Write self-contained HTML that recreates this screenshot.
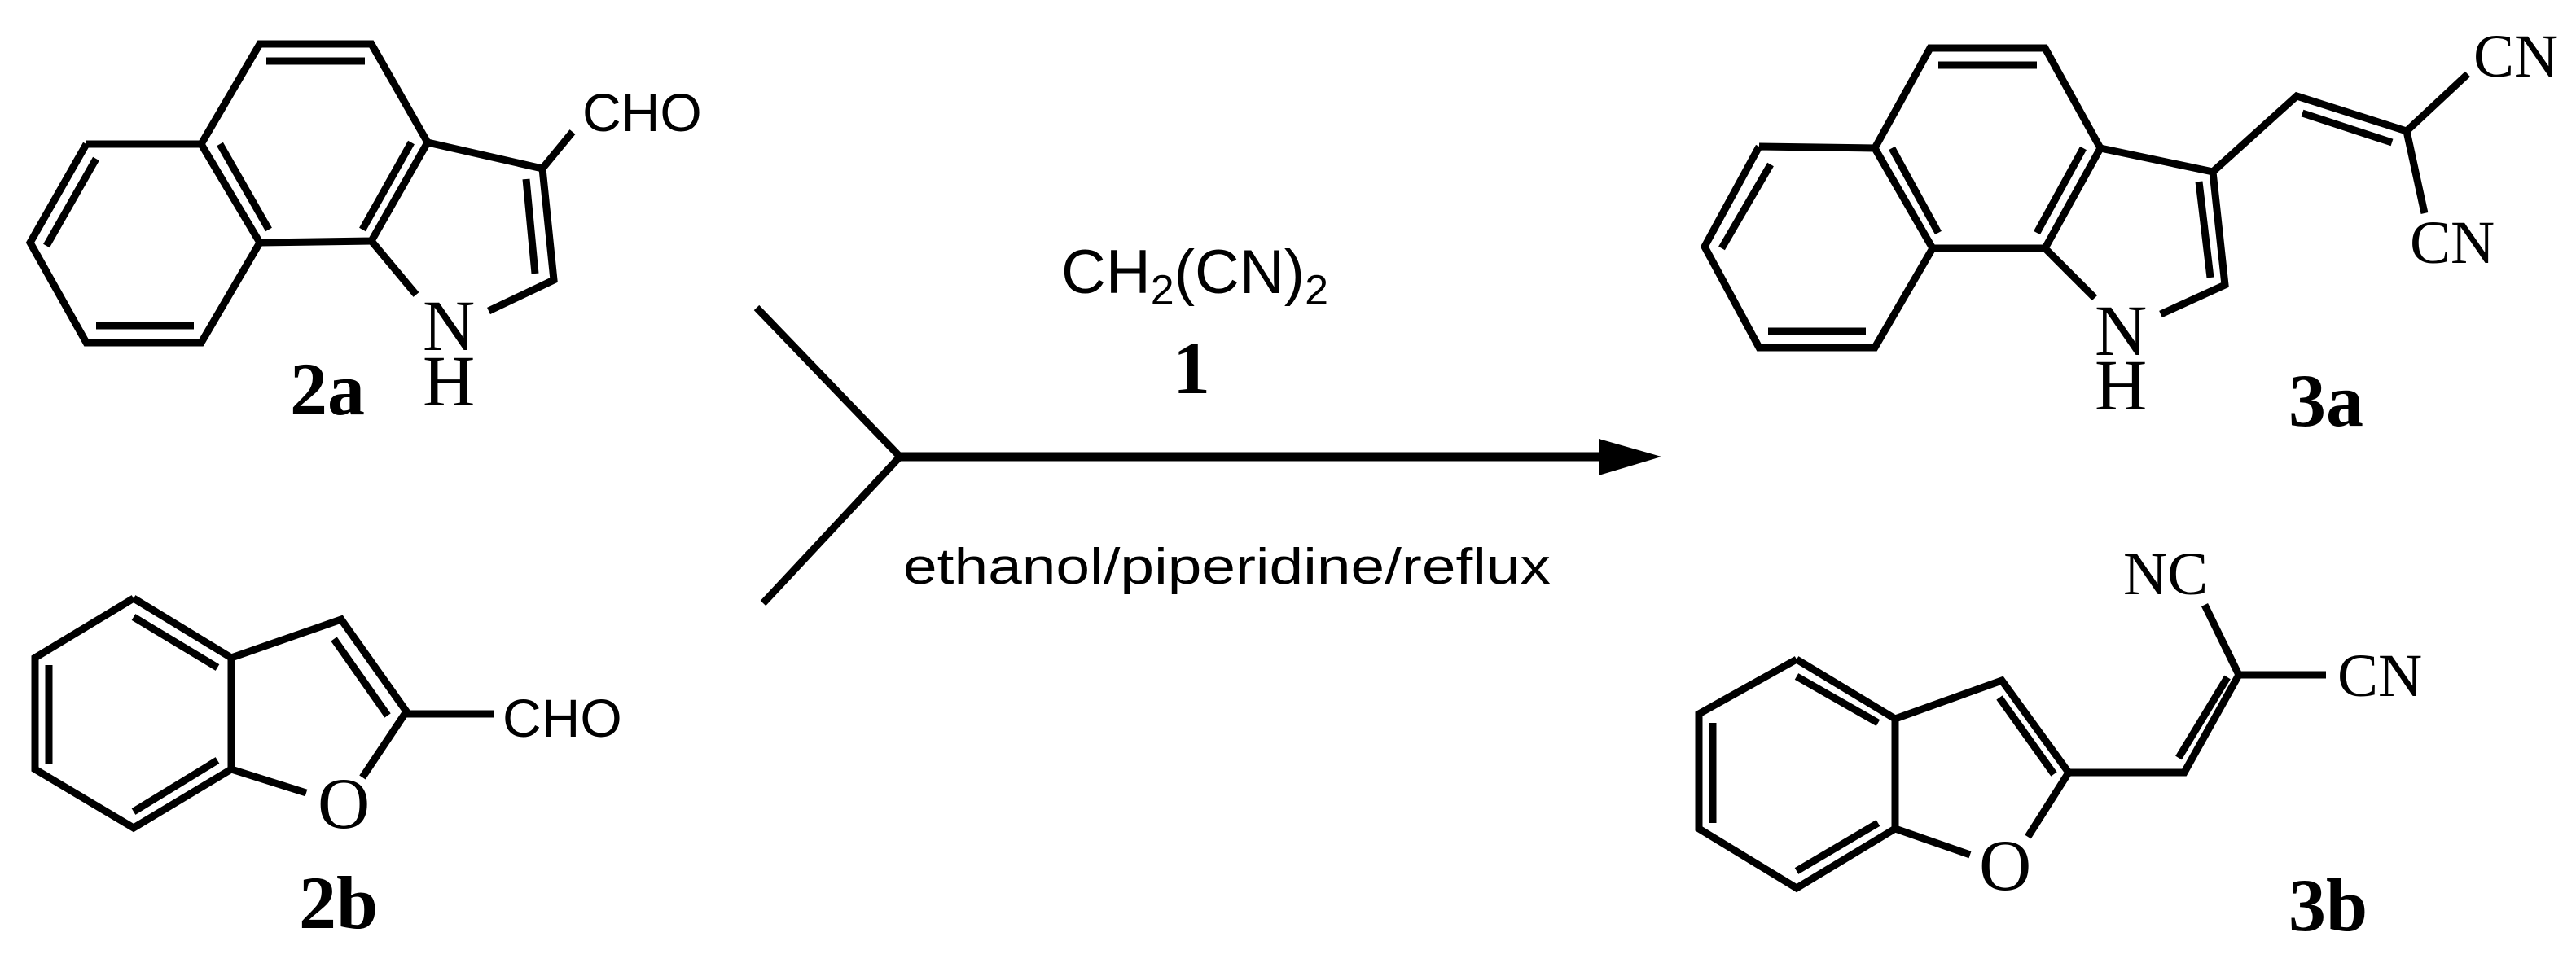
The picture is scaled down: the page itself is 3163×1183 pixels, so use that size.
<!DOCTYPE html>
<html><head><meta charset="utf-8"><style>html,body{margin:0;padding:0;background:#fff}svg{display:block}</style></head>
<body>
<svg width="3163" height="1183" viewBox="0 0 3163 1183" xmlns="http://www.w3.org/2000/svg">
<g stroke="#000" stroke-width="9" fill="none" stroke-linejoin="miter" stroke-linecap="butt">
<polyline points="106,177 247,177 319,298 247,421 106,421 37,298 106,177"/>
<polyline points="247,177 319,54 456,54 525,175 456,296 319,298"/>
<polyline points="525,175 666,207 680,344 600,382"/>
<line x1="456" y1="296" x2="511" y2="362"/>
<line x1="666" y1="207" x2="703" y2="162"/>
<line x1="118" y1="195" x2="57" y2="302"/>
<line x1="118" y1="400" x2="238" y2="400"/>
<line x1="327" y1="75" x2="448" y2="75"/>
<line x1="270" y1="177" x2="330" y2="282"/>
<line x1="505" y1="175" x2="445" y2="282"/>
<line x1="646" y1="220" x2="657" y2="336"/>
<polyline points="2160,180 2302,182 2373,305 2302,427 2160,427 2093,303 2160,180"/>
<polyline points="2302,182 2370,59 2511,59 2579,182 2511,305 2373,305"/>
<polyline points="2579,182 2717,211 2732,350 2653,386"/>
<line x1="2511" y1="305" x2="2572" y2="366"/>
<polyline points="2717,211 2820,118 2955,161 3030,91"/>
<line x1="2955" y1="161" x2="2977" y2="262"/>
<line x1="2827" y1="139" x2="2937" y2="175"/>
<line x1="2174" y1="202" x2="2114" y2="305"/>
<line x1="2171" y1="407" x2="2291" y2="407"/>
<line x1="2380" y1="80" x2="2501" y2="80"/>
<line x1="2323" y1="182" x2="2380" y2="286"/>
<line x1="2558" y1="182" x2="2501" y2="286"/>
<line x1="2700" y1="223" x2="2714" y2="341"/>
<polyline points="164,735 284,808 284,945 164,1017 43,945 43,808 164,735"/>
<polyline points="284,808 419,761 499,874 445,955"/>
<line x1="284" y1="945" x2="376" y2="974"/>
<line x1="499" y1="877" x2="606" y2="877"/>
<line x1="164" y1="758" x2="267" y2="820"/>
<line x1="60" y1="817" x2="60" y2="938"/>
<line x1="164" y1="997" x2="267" y2="934"/>
<line x1="410" y1="785" x2="476" y2="879"/>
<polyline points="2206,810 2327,883 2327,1018 2206,1091 2086,1018 2086,877 2206,810"/>
<polyline points="2327,883 2458,836 2540,949 2490,1028"/>
<line x1="2327" y1="1018" x2="2419" y2="1050"/>
<polyline points="2540,949 2682,949 2749,829 2856,829"/>
<line x1="2749" y1="829" x2="2707" y2="743"/>
<line x1="2675" y1="931" x2="2735" y2="832"/>
<line x1="2206" y1="831" x2="2306" y2="888"/>
<line x1="2103" y1="888" x2="2103" y2="1011"/>
<line x1="2206" y1="1070" x2="2306" y2="1011"/>
<line x1="2455" y1="857" x2="2522" y2="951"/>
<polyline points="929,378 1105,561 937,741"/>
<line x1="1105" y1="561" x2="1970" y2="561" stroke-width="11"/>
</g>
<polygon points="1963,539 2040,561 1963,584" fill="#000"/>
<g font-family="Liberation Serif, serif" fill="#000">
<text x="519" y="430" font-size="89">N</text>
<text x="519" y="498" font-size="89">H</text>
<text x="356" y="509" font-size="92" font-weight="bold">2a</text>
<text x="2572" y="436" font-size="89">N</text>
<text x="2572" y="503" font-size="89">H</text>
<text x="2810" y="523" font-size="92" font-weight="bold">3a</text>
<text x="3037" y="94" font-size="75">CN</text>
<text x="2959" y="323" font-size="75">CN</text>
<text x="390" y="1017" font-size="89">O</text>
<text x="367" y="1140" font-size="92" font-weight="bold">2b</text>
<text x="2430" y="1093" font-size="89">O</text>
<text x="2810" y="1143" font-size="92" font-weight="bold">3b</text>
<text x="2607" y="730" font-size="75">NC</text>
<text x="2870" y="855" font-size="75">CN</text>
<text x="1440" y="483" font-size="92" font-weight="bold">1</text>
</g>
<g font-family="Liberation Sans, sans-serif" fill="#000">
<text x="715" y="161" font-size="66">CHO</text>
<text x="617" y="905" font-size="66">CHO</text>
<text x="1303" y="360" font-size="76">CH<tspan font-size="52" dy="14">2</tspan><tspan dy="-14">(CN)</tspan><tspan font-size="52" dy="14">2</tspan></text>
<text x="1109" y="717" font-size="62" textLength="795" lengthAdjust="spacingAndGlyphs">ethanol/piperidine/reflux</text>
</g>
</svg>
</body></html>
